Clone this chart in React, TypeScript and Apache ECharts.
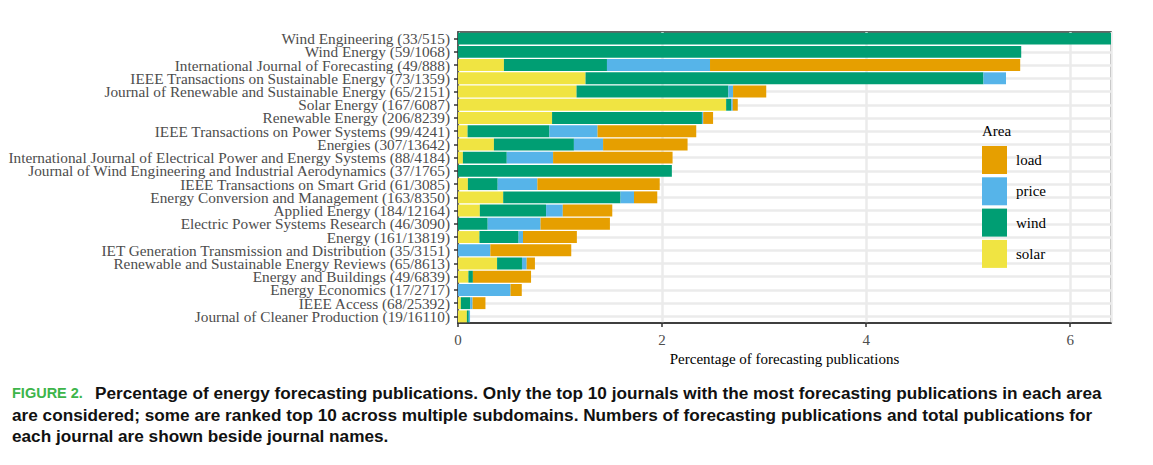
import React, { useEffect, useRef } from "react";
import * as echarts from "echarts";

const journals = [
  "Wind Engineering (33/515)",
  "Wind Energy (59/1068)",
  "International Journal of Forecasting (49/888)",
  "IEEE Transactions on Sustainable Energy (73/1359)",
  "Journal of Renewable and Sustainable Energy (65/2151)",
  "Solar Energy (167/6087)",
  "Renewable Energy (206/8239)",
  "IEEE Transactions on Power Systems (99/4241)",
  "Energies (307/13642)",
  "International Journal of Electrical Power and Energy Systems (88/4184)",
  "Journal of Wind Engineering and Industrial Aerodynamics (37/1765)",
  "IEEE Transactions on Smart Grid (61/3085)",
  "Energy Conversion and Management (163/8350)",
  "Applied Energy (184/12164)",
  "Electric Power Systems Research (46/3090)",
  "Energy (161/13819)",
  "IET Generation Transmission and Distribution (35/3151)",
  "Renewable and Sustainable Energy Reviews (65/8613)",
  "Energy and Buildings (49/6839)",
  "Energy Economics (17/2717)",
  "IEEE Access (68/25392)",
  "Journal of Cleaner Production (19/16110)",
];

// Percentage of forecasting publications per area (stacked left to right: solar, wind, price, load)
const solar = [0, 0, 0.45, 1.25, 1.162, 2.628, 0.922, 0.094, 0.352, 0.048, 0, 0.097, 0.443, 0.214, 0, 0.21, 0, 0.383, 0.102, 0, 0.028, 0.087];
const wind = [6.41, 5.52, 1.01, 3.9, 1.488, 0.049, 1.469, 0.802, 0.784, 0.43, 2.096, 0.292, 1.15, 0.649, 0.291, 0.384, 0, 0.244, 0.044, 0, 0.091, 0.019];
const price = [0, 0, 1.01, 0.221, 0.046, 0.016, 0.012, 0.472, 0.286, 0.454, 0, 0.389, 0.132, 0.164, 0.518, 0.043, 0.317, 0.046, 0, 0.515, 0.024, 0.012];
const load = [0, 0, 3.04, 0, 0.325, 0.049, 0.097, 0.967, 0.828, 1.171, 0, 1.199, 0.228, 0.485, 0.68, 0.528, 0.793, 0.081, 0.57, 0.11, 0.126, 0];

const xTicks = { min: 0, max: 6.4, interval: 2 };

const colors = { load: "#E69F00", price: "#56B4E9", wind: "#009E73", solar: "#F0E442" };
const legendOrder = ["load", "price", "wind", "solar"];

const captionLines = [
  "Percentage of energy forecasting publications. Only the top 10 journals with the most forecasting publications in each area",
  "are considered; some are ranked top 10 across multiple subdomains. Numbers of forecasting publications and total publications for",
  "each journal are shown beside journal names.",
];

const SERIF = "'Liberation Serif', 'Times New Roman', serif";
const SANS = "'Liberation Sans', Arial, sans-serif";

export default function App() {
  const ref = useRef<HTMLDivElement>(null);

  useEffect(() => {
    document.body.style.margin = "0";
    const chart = echarts.init(ref.current!, null, { renderer: "svg" });
    const mk = (name: string, data: number[]) => ({
      name,
      type: "bar",
      stack: "total",
      data,
      barWidth: "90%",
      itemStyle: { color: (colors as any)[name] },
      emphasis: { disabled: true },
    });
    chart.setOption({
      animation: false,
      textStyle: { fontFamily: SERIF },
      grid: {
        left: 458,
        right: 42,
        top: 32,
        bottom: 142,
        show: true,
        borderColor: "#333",
        borderWidth: 1.5,
        backgroundColor: "transparent",
      },
      xAxis: {
        type: "value",
        min: xTicks.min,
        max: xTicks.max,
        interval: xTicks.interval,
        axisLine: { show: true, onZero: false, lineStyle: { color: "#333", width: 1.5 } },
        axisTick: { show: true, length: 4, lineStyle: { color: "#333", width: 1.5 } },
        axisLabel: { color: "#4d4d4d", fontSize: 15, margin: 9, fontFamily: SERIF, showMaxLabel: false },
        splitLine: { show: true, lineStyle: { color: "#ebebeb", width: 2.5 } },
        name: "Percentage of forecasting publications",
        nameLocation: "middle",
        nameGap: 27,
        nameTextStyle: { color: "#000", fontSize: 15, fontFamily: SERIF },
      },
      yAxis: {
        type: "category",
        inverse: true,
        data: journals,
        axisLine: { show: true, lineStyle: { color: "#333", width: 1.5 } },
        axisTick: { show: true, alignWithLabel: true, length: 4, lineStyle: { color: "#333", width: 1.5 } },
        axisLabel: { color: "#4d4d4d", fontSize: 15.3, margin: 8, fontFamily: SERIF, interval: 0 },
        splitLine: { show: true, alignWithLabel: true, interval: 0, lineStyle: { color: "#ebebeb", width: 2.5 } },
      },
      legend: {
        orient: "vertical",
        left: 982,
        top: 146,
        padding: 0,
        itemWidth: 25,
        itemHeight: 28,
        itemGap: 3.3,
        icon: "rect",
        data: legendOrder,
        selectedMode: false,
        textStyle: { fontSize: 15, color: "#000", fontFamily: SERIF, padding: [0, 0, 0, 4] },
      },
      series: [mk("solar", solar), mk("wind", wind), mk("price", price), mk("load", load)],
      graphic: [
        {
          type: "text",
          z: 100,
          x: 982,
          y: 131,
          style: { text: "Area", font: `15px ${SERIF}`, fill: "#000", verticalAlign: "middle" },
        },
        {
          type: "text",
          x: 12,
          y: 393,
          style: {
            text: "FIGURE 2.",
            font: `bold 14.5px ${SANS}`,
            fill: "#3db54a",
            verticalAlign: "middle",
          },
        },
        ...captionLines.map((t, i) => ({
          type: "text",
          x: i === 0 ? 95 : 12,
          y: 393 + i * 21.5,
          style: {
            text: t,
            font: `bold 17.2px ${SANS}`,
            fill: "#111",
            verticalAlign: "middle",
          },
        })),
      ],
    });
    return () => chart.dispose();
  }, []);

  return <div ref={ref} style={{ width: 1153, height: 465 }} />;
}
